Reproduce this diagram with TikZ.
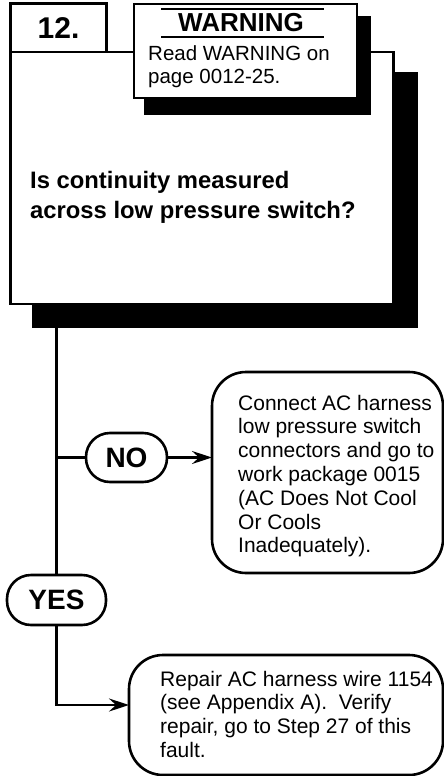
\documentclass[tikz,border=0pt]{standalone}
\usepackage{fontspec}
\setmainfont{Liberation Sans}
\usetikzlibrary{positioning, arrows.meta}

\newcommand{\bodysize}{\fontsize{21}{23.8}\selectfont}

\begin{document}
\begin{tikzpicture}[x=1pt, y=-1pt,
    frame/.style={draw=black, line width=2.6pt, fill=white, inner sep=0pt, outer sep=0pt},
    shadowfill/.style={fill=black},
    pill/.style={frame, rounded corners=24pt, font=\fontsize{28}{30}\selectfont\bfseries},
    resultbox/.style={frame, rounded corners=34pt, anchor=north west},
    bodytext/.style={anchor=base west, inner sep=0pt, align=left, font=\bodysize},
    flow/.style={line width=2.6pt},
    arrow/.style={flow, -{Stealth[length=20pt, width=13pt, inset=7pt]}}]
  \useasboundingbox (0,0) rectangle (444,776);

  % Question box with its shadow
  \fill[shadowfill] (32,72) rectangle (418,328);
  \node[frame, anchor=north west, minimum width=383pt, minimum height=252pt]
    (question) at (10.5,52) {};
  \node[bodytext, font=\fontsize{23.8}{30}\selectfont\bfseries]
    (qtext) at (30,218) {Is continuity measured\\across low pressure switch?};

  % Step number
  \node[frame, anchor=north west, minimum width=96pt, minimum height=48.5pt,
        font=\fontsize{30}{32}\selectfont\bfseries]
    (stepno) at (10.5,3.5) {12.};

  % Warning box with its shadow
  \fill[shadowfill] (144,16) rectangle (371,115);
  \node[frame, anchor=north west, minimum width=223pt, minimum height=94pt]
    (warning) at (134,4) {};
  \draw[line width=2.6pt] (161,9) -- (324,9);
  \draw[line width=2.6pt] (161,37) -- (324,37);
  \node[anchor=base, inner sep=0pt, font=\fontsize{26}{28}\selectfont\bfseries]
    (warntitle) at (241,32) {WARNING};
  \node[bodytext, font=\fontsize{20.5}{23}\selectfont]
    (warntext) at (148,84) {Read WARNING on\\page 0012-25.};

  % NO branch
  \node[pill, minimum width=81pt, minimum height=49pt] (no) at (126.5,457.5) {NO};
  \node[resultbox, minimum width=231pt, minimum height=201pt] (nobox) at (212,372) {};
  \node[bodytext] (notext) at (238,552.8)
    {Connect AC harness\\low pressure switch\\connectors and go to\\work package 0015\\
     (AC Does Not Cool\\Or Cools\\Inadequately).};

  % YES branch
  \node[pill, minimum width=99pt, minimum height=50pt] (yes) at (56.5,600) {YES};
  \node[resultbox, minimum width=314pt, minimum height=120pt] (repair) at (129,655) {};
  \node[bodytext] (repairtext) at (160,757.4)
    {Repair AC harness wire 1154\\(see Appendix A).\ \ Verify\\repair, go to Step 27 of this\\fault.};

  % Connectors
  \draw[flow] (question.south -| yes.north) -- (yes.north);
  \draw[flow] (yes.north |- no.west) -- (no.west);
  \draw[arrow] (no.east) -- (no.east -| nobox.west);
  \draw[arrow] (yes.south) |- ([yshift=10pt]repair.west);
\end{tikzpicture}
\end{document}
